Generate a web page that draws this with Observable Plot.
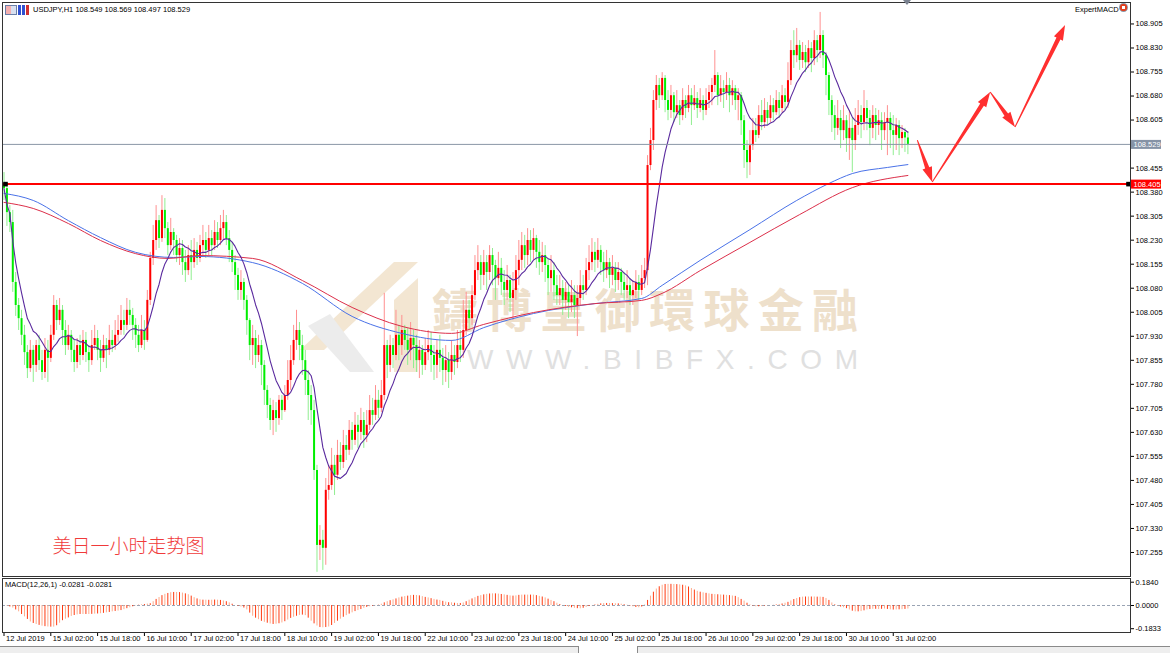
<!DOCTYPE html>
<html><head><meta charset="utf-8">
<script src="https://cdn.jsdelivr.net/npm/d3@7"></script>
<script src="https://cdn.jsdelivr.net/npm/@observablehq/plot@0.6"></script>
<style>
html,body{margin:0;padding:0;background:#fff;}
#wrap{position:relative;width:1170px;height:653px;overflow:hidden;background:#fff;font-family:'Liberation Sans',Arial,sans-serif;}
.abs{position:absolute;}
.t7{font-size:7.5px;color:#000;white-space:nowrap;line-height:9px;}
</style></head><body>
<div id="wrap">
 <svg id="wm" class="abs" style="left:0;top:0" width="1170" height="577">
  <polygon points="300,350 394,262 418,262 324,350" fill="#f3e6d2"/>
  <polygon points="308,326 330,314 374,372 350,372" fill="#ececec"/>
  <polygon points="394,300 418,278 418,372 394,372" fill="#f3e6d2"/>
  <text x="432" y="327" font-size="46" font-family="Noto Sans CJK TC" font-weight="700" fill="#eee0cb" textLength="426" lengthAdjust="spacing">鑄博皇御環球金融</text>
  <text x="467" y="369" font-size="28" font-family="Liberation Sans" fill="#e0e0e0" textLength="391" lengthAdjust="spacing">WWW.BIBFX.COM</text>
 </svg>
 <div id="main" class="abs" style="left:0;top:0"></div>
 <div id="macd" class="abs" style="left:0;top:576px"></div>
 <div class="abs" style="left:5px;top:5px;width:10px;height:8px;border:1px solid #6b7fa8;background:linear-gradient(90deg,#f4b0b0 50%,#d8e0f0 50%)"></div>
 <div class="abs" style="left:18px;top:5px;width:11px;height:10px;background:linear-gradient(90deg,#3050d0 0 30%,#fff 30% 40%,#3050d0 40% 60%,#fff 60% 70%,#d03030 70%)"></div>
 <div id="title" class="abs t7" style="left:33px;top:5px"></div>
 <div class="abs t7" style="left:1075px;top:5px">ExpertMACD</div>
 <div class="abs" style="left:1119px;top:3px;width:9px;height:9px;border-radius:5px;background:radial-gradient(circle,#fff 25%,#e04020 30%,#e04020 55%,#8a96a6 60%)"></div>
 <div class="abs" style="left:903px;top:0;width:0;height:0;border-left:4px solid transparent;border-right:4px solid transparent;border-top:5px solid #7a8290"></div>
 <div id="macdTitle" class="abs t7" style="left:5px;top:580px"></div>
 <div class="abs" style="left:0;top:646px;width:1170px;height:7px;background:#eeeeee;border-top:1px solid #8a8a8a"></div>
 <div class="abs" style="left:578px;top:646px;width:58px;height:7px;background:#fff;border-left:1px solid #8a8a8a;border-right:1px solid #8a8a8a"></div>
</div>
<script>
// ---------- data ----------
const firstOpen = 108.400;
const closes = [
108.391,108.316,108.285,108.098,108.026,107.985,107.933,107.879,107.829,107.886,
107.839,107.901,107.854,107.817,107.886,107.861,107.933,108.026,107.979,108.011,
107.948,107.901,107.933,107.886,107.848,107.901,107.870,107.917,107.879,107.854,
107.901,107.923,107.886,107.861,107.901,107.886,107.917,107.901,107.933,107.948,
107.979,107.964,108.011,107.995,107.964,107.933,107.901,107.948,107.917,108.042,
108.173,108.229,108.291,108.235,108.323,108.266,108.213,108.254,108.229,108.182,
108.204,108.160,108.135,108.182,108.160,108.198,108.173,108.213,108.229,108.198,
108.235,108.213,108.254,108.229,108.266,108.285,108.235,108.198,108.160,108.120,
108.073,108.098,108.042,107.979,107.901,107.923,107.870,107.901,107.839,107.761,
107.714,107.667,107.698,107.673,107.730,107.698,107.745,107.792,107.854,107.917,
107.948,107.901,107.854,107.792,107.745,107.698,107.511,107.277,107.293,107.268,
107.449,107.464,107.527,107.496,107.558,107.536,107.589,107.574,107.636,107.605,
107.652,107.630,107.667,107.620,107.652,107.698,107.683,107.730,107.705,107.745,
107.901,107.839,107.901,107.870,107.933,107.901,107.948,107.917,107.886,107.923,
107.901,107.854,107.886,107.839,107.879,107.901,107.870,107.839,107.886,107.861,
107.823,107.854,107.817,107.870,107.848,107.901,107.886,107.948,108.011,107.985,
108.057,108.135,108.160,108.120,108.160,108.129,108.182,108.151,108.110,108.142,
108.098,108.073,108.104,108.048,108.073,108.135,108.167,108.213,108.182,108.229,
108.198,108.235,108.192,108.160,108.182,108.151,108.110,108.135,108.088,108.057,
108.079,108.042,108.067,108.035,108.057,108.026,108.048,108.088,108.073,108.135,
108.160,108.192,108.167,108.198,108.160,108.135,108.160,108.120,108.142,108.104,
108.129,108.098,108.073,108.088,108.057,108.073,108.098,108.073,108.110,108.135,
108.463,108.541,108.666,108.713,108.681,108.735,108.666,108.635,108.681,108.628,
108.650,108.619,108.666,108.641,108.681,108.650,108.672,108.641,108.666,108.635,
108.666,108.691,108.713,108.744,108.681,108.703,108.691,108.713,108.681,108.703,
108.666,108.681,108.603,108.510,108.472,108.525,108.572,108.557,108.619,108.597,
108.635,108.610,108.650,108.628,108.666,108.641,108.681,108.660,108.728,108.822,
108.806,108.838,108.791,108.816,108.784,108.828,108.797,108.853,108.822,108.869,
108.806,108.744,108.666,108.619,108.579,108.610,108.572,108.603,108.547,108.579,
108.541,108.588,108.619,108.597,108.641,108.610,108.579,108.619,108.588,108.603,
108.572,108.597,108.610,108.572,108.557,108.588,108.547,108.566,108.549,108.529];
const highs = [
108.441,108.398,108.338,108.323,108.129,108.048,108.011,107.964,107.901,107.917,
107.901,107.917,107.933,107.886,107.923,107.917,107.964,108.057,108.042,108.048,
108.026,107.979,107.964,107.948,107.917,107.923,107.933,107.948,107.942,107.901,
107.948,107.964,107.948,107.917,107.933,107.923,107.964,107.948,107.979,107.995,
108.026,108.011,108.048,108.042,108.017,107.985,107.964,107.995,107.979,108.073,
108.192,108.276,108.338,108.307,108.369,108.360,108.285,108.298,108.266,108.245,
108.235,108.229,108.198,108.213,108.229,108.235,108.223,108.245,108.276,108.254,
108.276,108.260,108.291,108.285,108.307,108.323,108.307,108.260,108.223,108.182,
108.142,108.135,108.110,108.057,107.985,107.964,107.948,107.933,107.917,107.854,
107.776,107.736,107.730,107.723,107.745,107.745,107.776,107.854,107.901,107.964,
108.011,107.973,107.933,107.886,107.823,107.776,107.730,107.527,107.339,107.324,
107.486,107.527,107.580,107.558,107.605,107.598,107.636,107.620,107.667,107.661,
107.692,107.683,107.705,107.692,107.698,107.745,107.736,107.776,107.761,107.792,
108.064,107.917,107.933,107.923,108.011,107.964,107.995,107.964,107.954,107.973,
107.948,107.933,107.917,107.901,107.923,107.948,107.942,107.901,107.917,107.933,
107.892,107.901,107.879,107.917,107.901,107.948,107.948,108.042,108.067,108.042,
108.088,108.182,108.213,108.182,108.198,108.182,108.213,108.204,108.167,108.192,
108.173,108.135,108.151,108.120,108.129,108.182,108.229,108.254,108.245,108.266,
108.260,108.266,108.245,108.229,108.223,108.213,108.173,108.182,108.160,108.120,
108.120,108.104,108.098,108.088,108.104,108.088,108.088,108.135,108.120,108.173,
108.213,108.235,108.223,108.235,108.213,108.192,108.198,108.173,108.182,108.160,
108.160,108.142,108.129,108.135,108.110,108.104,108.135,108.120,108.151,108.173,
108.494,108.579,108.697,108.744,108.735,108.753,108.744,108.697,108.713,108.691,
108.697,108.666,108.703,108.681,108.713,108.703,108.713,108.691,108.703,108.681,
108.703,108.713,108.735,108.822,108.753,108.744,108.728,108.753,108.735,108.728,
108.713,108.703,108.691,108.619,108.541,108.572,108.610,108.610,108.650,108.666,
108.672,108.660,108.681,108.672,108.697,108.691,108.713,108.703,108.784,108.853,
108.884,108.891,108.853,108.847,108.838,108.853,108.847,108.884,108.869,108.941,
108.884,108.816,108.753,108.681,108.650,108.666,108.635,108.650,108.619,108.635,
108.610,108.641,108.666,108.650,108.697,108.666,108.635,108.650,108.641,108.635,
108.628,108.628,108.650,108.628,108.619,108.610,108.603,108.588,108.579,108.569];
const lows = [
108.354,108.273,108.254,108.067,107.992,107.948,107.901,107.839,107.798,107.817,
107.786,107.817,107.823,107.792,107.798,107.786,107.848,107.917,107.948,107.964,
107.901,107.870,107.886,107.848,107.817,107.829,107.839,107.854,107.848,107.817,
107.839,107.886,107.854,107.817,107.848,107.829,107.870,107.879,107.886,107.911,
107.933,107.933,107.948,107.964,107.917,107.892,107.879,107.892,107.886,107.911,
108.026,108.151,108.198,108.204,108.223,108.235,108.182,108.198,108.182,108.160,
108.151,108.120,108.098,108.120,108.104,108.142,108.151,108.160,108.182,108.173,
108.182,108.182,108.198,108.204,108.213,108.229,108.213,108.160,108.129,108.073,
108.042,108.042,108.011,107.933,107.854,107.839,107.829,107.848,107.776,107.714,
107.673,107.636,107.620,107.630,107.652,107.667,107.692,107.730,107.761,107.839,
107.886,107.854,107.808,107.745,107.667,107.652,107.480,107.193,107.230,107.199,
107.215,107.418,107.449,107.433,107.480,107.511,107.517,107.542,107.558,107.574,
107.589,107.580,107.605,107.580,107.598,107.636,107.652,107.667,107.673,107.692,
107.730,107.798,107.817,107.829,107.854,107.854,107.870,107.886,107.839,107.854,
107.829,107.817,107.798,107.808,107.823,107.854,107.817,107.792,107.798,107.817,
107.776,107.786,107.767,107.792,107.808,107.829,107.848,107.861,107.933,107.948,
107.964,108.042,108.104,108.073,108.088,108.073,108.104,108.088,108.042,108.088,
108.057,108.026,108.042,108.004,107.979,108.042,108.088,108.135,108.142,108.151,
108.160,108.167,108.142,108.120,108.129,108.098,108.057,108.067,108.042,108.026,
108.026,107.995,108.011,107.985,108.004,107.985,107.929,108.026,108.042,108.057,
108.104,108.135,108.129,108.142,108.120,108.098,108.110,108.079,108.088,108.067,
108.073,108.057,108.042,108.048,108.026,108.026,108.048,108.042,108.057,108.079,
108.088,108.447,108.510,108.635,108.641,108.666,108.628,108.603,108.610,108.597,
108.610,108.588,108.603,108.610,108.628,108.588,108.635,108.610,108.628,108.603,
108.619,108.641,108.650,108.691,108.650,108.660,108.641,108.666,108.628,108.650,
108.635,108.603,108.557,108.454,108.422,108.432,108.510,108.535,108.547,108.572,
108.579,108.588,108.597,108.603,108.619,108.610,108.628,108.635,108.641,108.713,
108.766,108.784,108.760,108.766,108.753,108.766,108.753,108.775,108.784,108.797,
108.766,108.681,108.619,108.566,108.541,108.557,108.516,108.541,108.504,108.479,
108.441,108.510,108.557,108.547,108.572,108.572,108.525,108.547,108.541,108.557,
108.510,108.541,108.494,108.516,108.494,108.510,108.494,108.516,108.504,108.497];
const macdHist = [
0,-0.005,-0.012,-0.02,-0.035,-0.05,-0.071,-0.09,-0.11,-0.13,
-0.142,-0.15,-0.157,-0.163,-0.167,-0.17,-0.171,-0.171,-0.16,-0.14,
-0.12,-0.108,-0.098,-0.086,-0.079,-0.074,-0.071,-0.071,-0.071,-0.071,
-0.07,-0.068,-0.067,-0.065,-0.062,-0.058,-0.055,-0.05,-0.047,-0.044,
-0.04,-0.033,-0.025,-0.018,-0.01,-0.003,0.002,0.005,0.008,0.011,
0.014,0.03,0.048,0.063,0.078,0.088,0.095,0.101,0.103,0.103,
0.102,0.098,0.092,0.085,0.074,0.062,0.052,0.045,0.042,0.042,
0.041,0.042,0.043,0.042,0.04,0.036,0.03,0.021,0.01,0,
-0.006,-0.012,-0.02,-0.035,-0.06,-0.085,-0.1,-0.112,-0.125,-0.133,
-0.14,-0.146,-0.15,-0.148,-0.144,-0.138,-0.128,-0.115,-0.102,-0.093,
-0.085,-0.078,-0.076,-0.08,-0.1,-0.124,-0.145,-0.162,-0.174,-0.176,
-0.174,-0.17,-0.158,-0.142,-0.124,-0.108,-0.093,-0.08,-0.068,-0.058,
-0.048,-0.04,-0.032,-0.022,-0.015,-0.01,-0.005,-0.002,0.002,0.01,
0.021,0.03,0.038,0.045,0.052,0.06,0.066,0.07,0.074,0.078,
0.08,0.079,0.076,0.07,0.064,0.06,0.054,0.048,0.043,0.04,
0.033,0.027,0.022,0.021,0.018,0.016,0.016,0.02,0.03,0.042,
0.052,0.062,0.072,0.078,0.084,0.088,0.091,0.092,0.092,0.09,
0.087,0.084,0.08,0.076,0.074,0.076,0.08,0.082,0.082,0.082,
0.082,0.082,0.078,0.072,0.067,0.06,0.05,0.04,0.03,0.018,
0.008,0,-0.008,-0.014,-0.018,-0.022,-0.025,-0.026,-0.022,-0.015,
-0.008,-0.002,0.004,0.009,0.013,0.015,0.016,0.016,0.015,0.014,
0.013,0.01,0.006,0.002,-0.004,-0.01,-0.016,-0.018,-0.012,0.004,
0.04,0.074,0.105,0.13,0.148,0.16,0.166,0.167,0.167,0.166,
0.165,0.163,0.16,0.155,0.146,0.134,0.122,0.112,0.105,0.1,
0.096,0.092,0.088,0.086,0.085,0.083,0.082,0.08,0.078,0.075,
0.072,0.062,0.048,0.035,0.018,0.005,-0.004,-0.01,-0.01,-0.007,
-0.004,-0.002,0,0.002,0.004,0.008,0.012,0.018,0.025,0.036,
0.047,0.055,0.062,0.066,0.067,0.067,0.067,0.067,0.066,0.066,
0.064,0.055,0.04,0.02,0.005,-0.005,-0.012,-0.018,-0.025,-0.035,
-0.045,-0.05,-0.05,-0.048,-0.042,-0.035,-0.032,-0.03,-0.03,-0.032,
-0.03,-0.028,-0.031,-0.034,-0.036,-0.035,-0.034,-0.033,-0.031,-0.0281];
// long moving averages, sampled (bar index, price)
const blueMaIdx = [0,10,22,33,45,58,67,85,102,119,136,153,164,181,202,218,225,238,255,271,282,290,302,309];
const blueMaVal = [108.376,108.354,108.291,108.238,108.192,108.176,108.179,108.160,108.095,107.992,107.939,107.917,107.957,108.001,108.032,108.048,108.089,108.167,108.263,108.354,108.407,108.438,108.457,108.466];
const redMaIdx = [0,10,22,33,45,56,67,85,102,119,136,153,164,181,202,218,225,238,255,272,290,309];
const redMaVal = [108.348,108.329,108.282,108.229,108.188,108.173,108.182,108.173,108.104,108.020,107.961,107.939,107.967,108.004,108.032,108.042,108.064,108.135,108.223,108.310,108.394,108.432];
// projected path (bar index, price)
const arrowIdx = [312.4,317.5,337.3,345.8,362.9];
const arrowVal = [108.541,108.410,108.691,108.582,108.900];
const supportLevel = 108.405;
const priceTicks = [108.905,108.830,108.755,108.680,108.605,108.455,108.380,108.305,108.230,108.155,108.080,108.005,107.930,107.855,107.780,107.705,107.630,107.555,107.480,107.405,107.330,107.255];
const macdTicks = [0.1840,0,-0.1833];
const timeLabels = ["12 Jul 2019","15 Jul 02:00","15 Jul 18:00","16 Jul 10:00","17 Jul 02:00","17 Jul 18:00","18 Jul 10:00","19 Jul 02:00","19 Jul 18:00","22 Jul 10:00","23 Jul 02:00","23 Jul 18:00","24 Jul 10:00","25 Jul 02:00","25 Jul 18:00","26 Jul 10:00","29 Jul 02:00","29 Jul 18:00","30 Jul 10:00","31 Jul 02:00"];
const timeLabelIdx = timeLabels.map((d,k)=>k*16);
const caption = "美日一小时走势图";

// ---------- build ----------
const candles = closes.map((c,i)=>{
  const o = i===0 ? firstOpen : closes[i-1];
  return {i, open:o, close:c, high:Math.max(highs[i],o,c), low:Math.min(lows[i],o,c), up:c>=o};
});
const last = candles[candles.length-1];
document.getElementById("title").textContent =
  `USDJPY,H1  ${last.open.toFixed(3)} ${last.high.toFixed(3)} ${last.low.toFixed(3)} ${last.close.toFixed(3)}`;
const mv = macdHist[macdHist.length-1].toFixed(4);
document.getElementById("macdTitle").textContent = `MACD(12,26,1) ${mv} ${mv}`;

const xDomain = [-0.513, 385.1];
const blueMa = blueMaIdx.map((i,k)=>({i, v:blueMaVal[k]}));
const redMa = redMaIdx.map((i,k)=>({i, v:redMaVal[k]}));
const arrows = d3.pairs(arrowIdx.map((i,k)=>({i, v:arrowVal[k]}))).map(([a,b])=>({x1:a.i,y1:a.v,x2:b.i,y2:b.v}));
const lwma = vals => { let s=0,w=0; vals.forEach((v,j)=>{s+=v*(j+1); w+=j+1;}); return s/w; };
const font = "'Liberation Sans', Arial, sans-serif";

// tapered filled arrows drawn through the plot's own x/y scales
function taperArrows(index, scales) {
  if (!scales || typeof scales.x !== "function" || typeof scales.y !== "function") return null;
  const g = d3.create("svg:g").attr("class", "taper");
  for (const a of arrows) {
    const x1 = scales.x(a.x1), y1 = scales.y(a.y1), x2 = scales.x(a.x2), y2 = scales.y(a.y2);
    const dx = x2 - x1, dy = y2 - y1, L = Math.hypot(dx, dy);
    const ux = dx / L, uy = dy / L, nx = -uy, ny = ux;
    const H = Math.min(15, L * 0.35), bx = x2 - ux * H, by = y2 - uy * H;
    const pts = [
      [x1 + nx * 0.5, y1 + ny * 0.5], [bx + nx * 2.2, by + ny * 2.2], [bx + nx * 5, by + ny * 5],
      [x2, y2], [bx - nx * 5, by - ny * 5], [bx - nx * 2.2, by - ny * 2.2], [x1 - nx * 0.5, y1 - ny * 0.5]
    ];
    g.append("polygon").attr("points", pts.map(p => p.join(",")).join(" ")).attr("fill", "#ff2f2f");
  }
  return g.node();
}

function mainMarks(useTaper) {
  return [
    Plot.ruleX(candles, {x:"i", y1:"low", y2:"high", stroke:d=>d.up?"#ff9090":"#90ee90", strokeWidth:1}),
    Plot.ruleX(candles, {x:"i", y1:"open", y2:"close", stroke:d=>d.up?"#ff0000":"#00ee00", strokeWidth:2}),
    Plot.line(blueMa, {x:"i", y:"v", stroke:"#4a72e8", strokeWidth:1, curve:"monotone-x"}),
    Plot.line(redMa, {x:"i", y:"v", stroke:"#dc2f4a", strokeWidth:1, curve:"monotone-x"}),
    Plot.lineY(candles, Plot.windowY({k:14, anchor:"end", strict:false, reduce:lwma}, {x:"i", y:"close", stroke:"#5a2a9e", strokeWidth:1.1})),
    Plot.ruleY([last.close], {stroke:"#8a96a6", strokeWidth:1}),
    Plot.ruleY([supportLevel], {stroke:"#ff0000", strokeWidth:2}),
    Plot.dot([supportLevel], {y:d=>d, frameAnchor:"left", dx:3, symbol:"square", r:2.6, fill:"#000"}),
    Plot.dot([supportLevel], {y:d=>d, frameAnchor:"right", dx:-2, symbol:"square", r:2.6, fill:"#000"}),
    useTaper ? taperArrows :
      Plot.arrow(arrows, {x1:"x1", y1:"y1", x2:"x2", y2:"y2", stroke:"#ff2a2a", strokeWidth:3, headLength:13, headAngle:45}),
    Plot.ruleY([last.close], {x1:xDomain[1], x2:xDomain[1]+10.6, stroke:"#8593a6", strokeWidth:9}),
    Plot.text([last.close], {y:d=>d, frameAnchor:"right", dx:3, textAnchor:"start", text:d=>d.toFixed(3), fill:"#fff"}),
    Plot.ruleY([supportLevel], {x1:xDomain[1], x2:xDomain[1]+10.6, stroke:"#ff0000", strokeWidth:9}),
    Plot.text([supportLevel], {y:d=>d, frameAnchor:"right", dx:3, textAnchor:"start", text:d=>d.toFixed(3), fill:"#fff"}),
    Plot.text([caption], {frameAnchor:"bottom-left", dx:50, dy:-24, textAnchor:"start", text:d=>d, fontSize:19, fontWeight:300, fill:"#f03a3a", fontFamily:"'Noto Sans CJK SC', sans-serif"}),
    Plot.frame({stroke:"#333"})
  ];
}
function buildMain(useTaper) {
  return Plot.plot({
    width:1170, height:577,
    marginLeft:2, marginRight:40, marginTop:2, marginBottom:1,
    style:{fontFamily:font, fontSize:"7.5px", background:"transparent", color:"#000", overflow:"visible"},
    x:{domain:xDomain, axis:null},
    y:{domain:[107.180,108.972], axis:"right", ticks:priceTicks, tickFormat:d=>d.toFixed(3), tickSize:3, tickPadding:2, label:null},
    color:{type:"identity"},
    marks: mainMarks(useTaper)
  });
}
let main;
try { main = buildMain(true); if (!main.querySelector(".taper")) main = buildMain(false); }
catch (e) { main = buildMain(false); }
document.getElementById("main").appendChild(main);

const macdData = macdHist.map((v,i)=>({i, v}));
const macd = Plot.plot({
  width:1170, height:72,
  marginLeft:2, marginRight:40, marginTop:2, marginBottom:16,
  style:{fontFamily:font, fontSize:"7.5px", background:"transparent", color:"#000", overflow:"visible"},
  x:{domain:xDomain, axis:"bottom", ticks:timeLabelIdx, tickFormat:()=>"", tickSize:4, label:null},
  y:{domain:[-0.2132,0.2132], axis:"right", ticks:macdTicks, tickFormat:d=>d.toFixed(4), tickSize:3, tickPadding:2, label:null},
  color:{type:"identity"},
  marks:[
    Plot.ruleY([0], {stroke:"#9aa4b4", strokeDasharray:"3,2"}),
    Plot.ruleX(macdData, {x:"i", y1:0, y2:"v", stroke:d=>d.i%2?"#ffac8c":"#ff3a10", strokeWidth:1}),
    Plot.text(timeLabelIdx, {x:d=>d, frameAnchor:"bottom", dy:8, dx:2, textAnchor:"start", text:(d,k)=>timeLabels[k]}),
    Plot.frame({stroke:"#333"})
  ]
});
document.getElementById("macd").appendChild(macd);
</script>
</body></html>
